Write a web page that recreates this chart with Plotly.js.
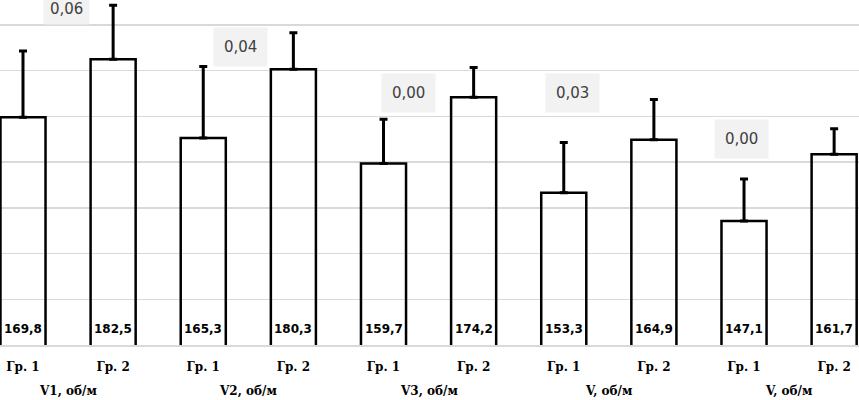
<!DOCTYPE html>
<html>
<head>
<meta charset="utf-8">
<script src="https://cdn.plot.ly/plotly-3.0.1.min.js"></script>
<style>html,body{margin:0;padding:0;background:#fff;}#chart{width:859px;height:400px;}</style>
</head>
<body>
<div id="chart"></div>
<script>
// ---- data ----
const groupLabels = ["Гр. 1","Гр. 2","Гр. 1","Гр. 2","Гр. 1","Гр. 2","Гр. 1","Гр. 2","Гр. 1","Гр. 2"];
const paramLabels = ["V1, об/м","V2, об/м","V3, об/м","V, об/м","V, об/м"];
const means = [169.8, 182.5, 165.3, 180.3, 159.7, 174.2, 153.3, 164.9, 147.1, 161.7];
const errors = [14.5, 11.8, 15.6, 8.0, 9.7, 6.5, 11.0, 8.8, 9.2, 5.6];
const pValues = ["0,06","0,04","0,00","0,03","0,00"];

// ---- layout helpers (positions, not data) ----
const pLabelX = [0.48, 2.41, 4.28, 6.10, 7.97];
const pLabelY = [193.6, 185.1, 175.1, 175.1, 165.1];
const pLabelPad = [6, 10, 10, 10, 10];

const idx = means.map((_, i) => i);
const fmt = v => v.toFixed(1).replace('.', ',');

const trace = {
  type: 'bar',
  x: idx,
  y: means,
  base: 0,
  width: 0.5,
  marker: {color: 'rgba(255,255,255,0)', line: {color: '#000', width: 2.5}},
  error_y: {type: 'data', symmetric: false, array: errors, arrayminus: errors.map(() => 0),
            color: '#000', thickness: 3, width: 4},
  hoverinfo: 'none'
};

const annotations = [];
means.forEach((v, i) => {
  annotations.push({x: i, y: 120, xref: 'x', yref: 'y', text: fmt(v), showarrow: false,
    yanchor: 'middle', yshift: 16,
    font: {family: 'DejaVu Sans', size: 12, color: '#000', weight: 'bold'}});
});
paramLabels.forEach((t, k) => {
  annotations.push({x: 2 * k + 0.5, y: 0, xref: 'x', yref: 'paper', text: '<b>' + t + '</b>',
    showarrow: false, yanchor: 'middle', yshift: -46,
    font: {family: 'DejaVu Serif', size: 12, color: '#000'}});
});
pValues.forEach((t, k) => {
  annotations.push({x: pLabelX[k], y: pLabelY[k], xref: 'x', yref: 'y', text: t, showarrow: false,
    xanchor: 'center', yanchor: 'middle', bgcolor: '#f2f2f2', borderpad: pLabelPad[k],
    font: {family: 'DejaVu Sans', size: 15, color: '#404040'}});
});

const layout = {
  width: 859, height: 400,
  margin: {l: 0, r: 0, t: 0, b: 55, pad: 0},
  paper_bgcolor: '#fff', plot_bgcolor: '#fff',
  showlegend: false,
  xaxis: {range: [-0.2552, 9.2758], tickvals: idx, ticktext: groupLabels.map(s => '<b>' + s + '</b>'),
    ticks: '', showgrid: false, zeroline: false, showline: true, linecolor: '#d9d9d9', linewidth: 1.5,
    ticklabelstandoff: 10,
    tickfont: {family: 'DejaVu Serif', size: 12, color: '#000'}},
  yaxis: {range: [120, 195.47], tick0: 120, dtick: 10, showticklabels: false, ticks: '',
    showgrid: true, gridcolor: '#d9d9d9', gridwidth: 1.5, zeroline: false, showline: false},
  annotations: annotations
};

Plotly.newPlot('chart', [trace], layout, {staticPlot: true, displayModeBar: false});
</script>
</body>
</html>
